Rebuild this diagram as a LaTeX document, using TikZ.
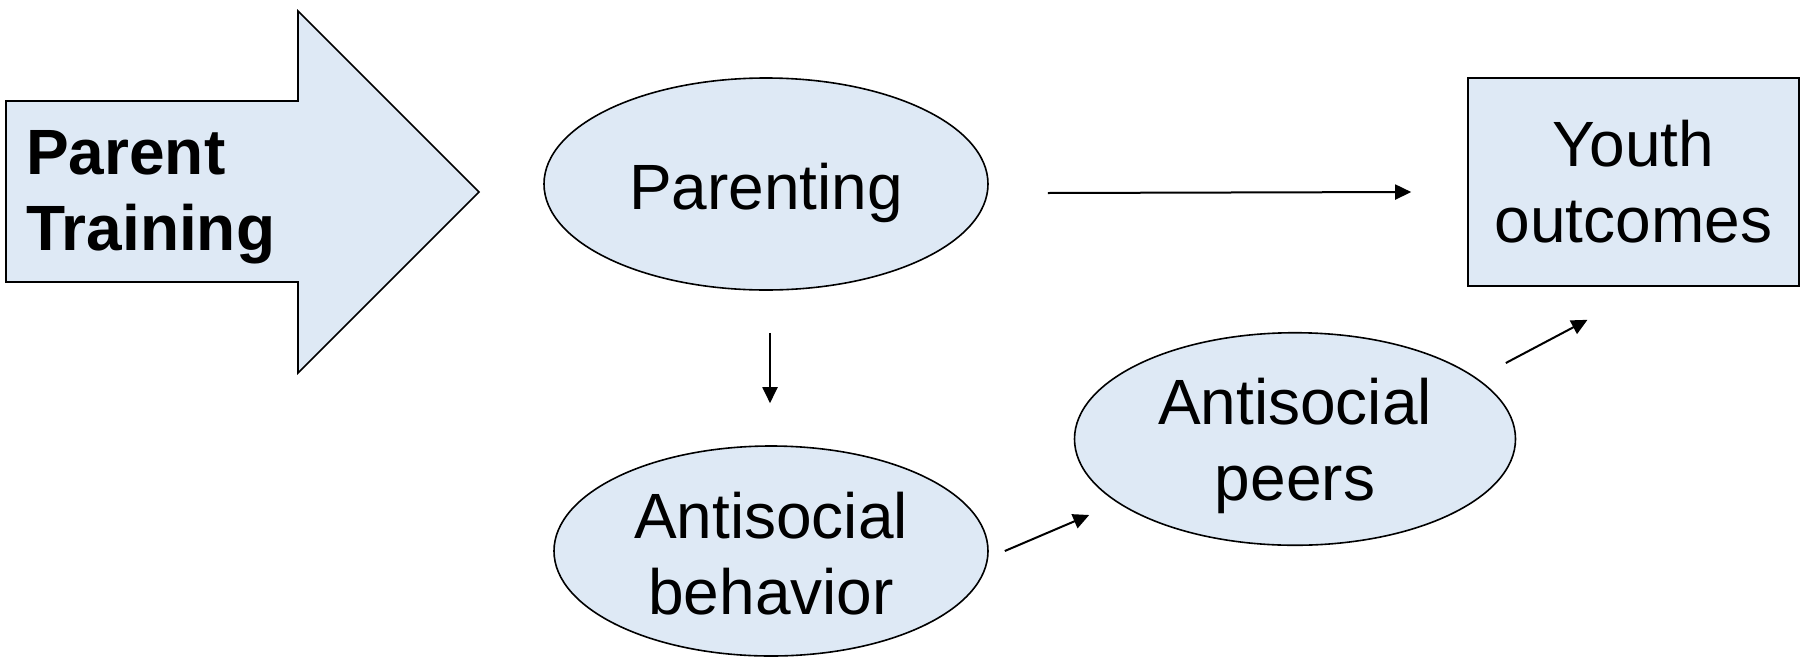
\documentclass[tikz,border=0pt]{standalone}
\usepackage{fontspec}
\setmainfont{Liberation Sans}
\usetikzlibrary{shapes.geometric,arrows.meta,calc}
\definecolor{boxfill}{RGB}{222,233,245}
\newcommand{\topstrut}[1]{\rule{0pt}{#1}}
\tikzset{
  shapebox/.style={draw=black, line width=1.6pt, fill=boxfill, inner sep=0pt, align=center,
    font=\fontsize{64pt}{76pt}\selectfont},
  oval/.style={shapebox, ellipse},
  conn/.style={line width=2pt, -{Triangle[length=16pt,width=15pt]}}
}
\begin{document}
\begin{tikzpicture}[x=1pt,y=-1pt]
\useasboundingbox (0,0) rectangle (1806,659);
% big arrow
\draw[line width=1.6pt, fill=boxfill, line join=miter]
  (6,101) -- (298,101) -- (298,11) -- (479,192) -- (298,373) -- (298,282) -- (6,282) -- cycle;
\node[anchor=west, inner sep=0pt, align=left, font=\fontsize{64pt}{76pt}\selectfont\bfseries]
  (pt) at (26,197) {Parent\\Training};
\node[oval, minimum width=444pt, minimum height=212pt] (par) at (766,184) {\topstrut{64pt}Parenting};
\node[oval, minimum width=434pt, minimum height=210pt] (beh) at (771,551) {\topstrut{52pt}Antisocial\\behavior};
\node[oval, minimum width=441pt, minimum height=212pt] (peer) at (1295,439) {\topstrut{61pt}Antisocial\\peers};
\node[shapebox, rectangle, minimum width=331pt, minimum height=208pt] (yo) at (1633.5,182) {Youth\\outcomes};
\draw[conn] ($(par.east)+(59,9)$) -- ($(yo.west)+(-56,10)$);
\draw[conn] ($(par.south)+(4,42)$) -- ($(beh.north)+(-1,-42)$);
\draw[conn] ($(beh.east)+(16,0)$) -- ($(peer.west)+(15.5,76)$);
\draw[conn] ($(peer.east)+(-10.5,-76)$) -- ($(yo.south)+(-46,33)$);
\end{tikzpicture}
\end{document}
